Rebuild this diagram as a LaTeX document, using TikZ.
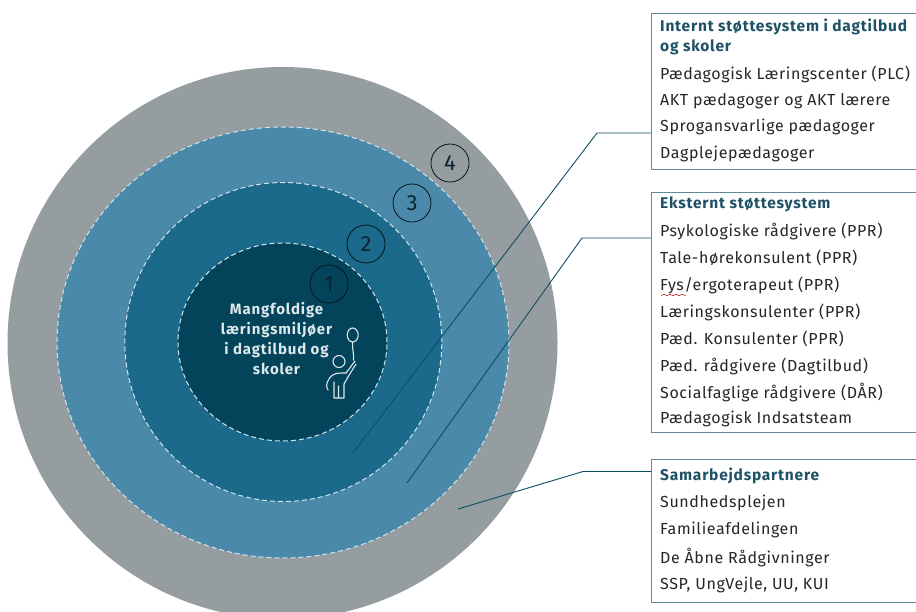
\documentclass[tikz,border=0pt]{standalone}
\usepackage{fontspec}
\usetikzlibrary{shapes.geometric}
\setmainfont{Fira Sans}
\newfontfamily\itemfont[LetterSpace=3.8]{Fira Sans}
\newfontfamily\headfont[LetterSpace=5]{Fira Sans}
\newfontfamily\centrefont[LetterSpace=5.7]{Fira Sans}
\definecolor{ringD}{HTML}{969DA1}
\definecolor{ringC}{HTML}{4A89A9}
\definecolor{ringB}{HTML}{1B6A8B}
\definecolor{ringA}{HTML}{04445A}
\definecolor{headc}{HTML}{1F5266}
\definecolor{bordc}{HTML}{5F8A99}
\definecolor{leadc}{HTML}{0D4F63}
\definecolor{txtc}{HTML}{262626}
\definecolor{iconc}{HTML}{DCE8EA}
\definecolor{dashc}{HTML}{CFE4EC}
\tikzset{
  disc/.style 2 args={ellipse,inner sep=0pt,minimum width=#1,minimum height=#2},
  dashring/.style={draw=dashc,dash pattern=on 5pt off 3pt,line width=1pt},
  numring/.style={circle,draw=black!80!ringB,line width=.8pt,minimum size=38pt,inner sep=0pt,font=\fontsize{22}{24}\selectfont\color{black!65!ringB}},
  infobox/.style={draw=bordc,line width=1pt,fill=white,anchor=north west,inner sep=0pt,minimum width=300pt},
  head/.style={anchor=west,font=\headfont\fontsize{15.5}{18}\selectfont\bfseries,text=headc,inner sep=0pt},
  item/.style={anchor=west,font=\itemfont\fontsize{16}{18}\selectfont,text=txtc,inner sep=0pt},
  leader/.style={draw=leadc,line width=.9pt},
  iconline/.style={draw=iconc,line width=1.1pt,line cap=round,line join=round},
}
\begin{document}
\begin{tikzpicture}[x=1pt,y=-1pt]
\useasboundingbox (0,0) rectangle (916,611);
\clip (0,0) rectangle (916,611);
\fill[white] (0,0) rectangle (916,611);
% rings
\node[disc={550pt}{552pt},fill=ringD] (r4) at (282.5,343) {};
\node[disc={452pt}{431pt},fill=ringC,dashring] (r3) at (283,342.5) {};
\node[disc={317pt}{319pt},fill=ringB,dashring] (r2) at (283.3,342) {};
\node[disc={209pt}{198pt},fill=ringA,dashring] (r1) at (282.5,342) {};
% boxes
\node[infobox,minimum height=156pt] (b1) at (651,13) {};
\node[infobox,minimum height=240pt] (b2) at (651,192) {};
\node[infobox,minimum height=143pt] (b3) at (651,459) {};
% leaders
\coordinate (e1) at (353,453);
\coordinate (k1) at (597,133);
\coordinate (s1) at (651,133);
\coordinate (e2) at (407,483);
\coordinate (k2) at (582,238);
\coordinate (s2) at (651,238);
\coordinate (e3) at (458,509);
\coordinate (k3) at (583,471.5);
\coordinate (s3) at (651,471.5);
\draw[leader] (e1) -- (k1) -- (s1);
\draw[leader] (e2) -- (k2) -- (s2);
\draw[leader] (e3) -- (k3) -- (s3);
% numbers
\node[numring] (n1) at (329,284) {1};
\node[numring] (n2) at (366,244) {2};
\node[numring] (n3) at (412,203) {3};
\node[numring] (n4) at (450,163) {4};
% centre text
\node[align=center,text=iconc,font=\centrefont\fontsize{15}{20}\selectfont\bfseries,inner sep=0pt] (ct) at (276.5,339) {Mangfoldige\\læringsmiljøer\\i dagtilbud og\\skoler};
% icon
\draw[iconline] (352.7,335) ellipse (5.5 and 7);
\draw[iconline] (352.7,342) .. controls (352,350) and (354,352) .. (353.5,360);
\draw[iconline] (339,361.5) circle (6);
\draw[iconline] (346,373) -- (355,361);
\draw[iconline] (348,377) -- (356,364);
\draw[iconline] (346,373) .. controls (340,373) and (333,372) .. (329,379) .. controls (326,384) and (326,386) .. (328,390);
\draw[iconline] (334,382) -- (334,398) -- (338.5,398) -- (338.5,386) -- (338.5,398) -- (344,398) -- (344,384) -- (348,377);
% box 1
\node[head] (t11) at (660,27) {Internt støttesystem i dagtilbud};
\node[head] (t12) at (660,47) {og skoler};
\node[item] (t13) at (660,74) {Pædagogisk Læringscenter (PLC)};
\node[item] (t14) at (660,101) {AKT pædagoger og AKT lærere};
\node[item] (t15) at (660,127) {Sprogansvarlige pædagoger};
\node[item] (t16) at (660,154) {Dagplejepædagoger};
% box 2
\node[head] (t21) at (660,204) {Eksternt støttesystem};
\node[item] (t22) at (660,231) {Psykologiske rådgivere (PPR)};
\node[item] (t23) at (660,258) {Tale-hørekonsulent (PPR)};
\node[item] (t24) at (660,285) {Fys/ergoterapeut (PPR)};
\node[item] (t25) at (660,312) {Læringskonsulenter (PPR)};
\node[item] (t26) at (660,339) {Pæd. Konsulenter (PPR)};
\node[item] (t27) at (660,366) {Pæd. rådgivere (Dagtilbud)};
\node[item] (t28) at (660,393) {Socialfaglige rådgivere (DÅR)};
\node[item] (t29) at (660,419) {Pædagogisk Indsatsteam};
\draw[red!70!black,line width=.5pt] (661,295.5) -- (664,294.5) -- (667,295.5) -- (670,294.5) -- (673,295.5) -- (676,294.5) -- (679,295.5) -- (682,294.5) -- (686,295.5);
% box 3
\node[head] (t31) at (660,476) {Samarbejdspartnere};
\node[item] (t32) at (660,503) {Sundhedsplejen};
\node[item] (t33) at (660,530) {Familieafdelingen};
\node[item] (t34) at (660,557) {De Åbne Rådgivninger};
\node[item] (t35) at (660,585) {SSP, UngVejle, UU, KUI};
\end{tikzpicture}
\end{document}
